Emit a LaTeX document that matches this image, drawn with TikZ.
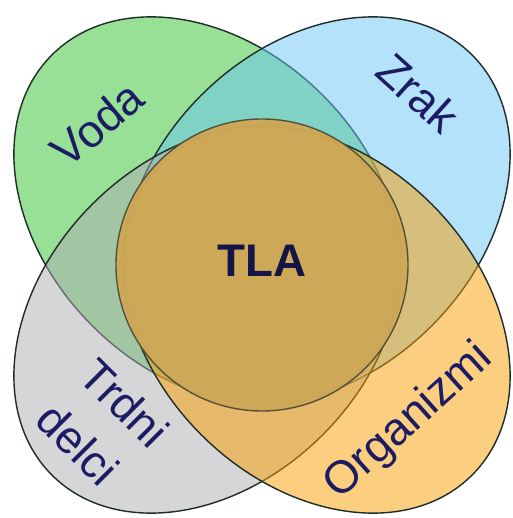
\documentclass[tikz,border=0pt]{standalone}
\usepackage{fontspec}
\setmainfont{Liberation Sans}
\definecolor{vodagreen}{RGB}{49,193,45}
\definecolor{zrakblue}{RGB}{105,197,245}
\definecolor{delcigray}{RGB}{173,173,177}
\definecolor{orgorange}{RGB}{249,157,0}
\definecolor{tlabrown}{RGB}{206,168,88}
\definecolor{textnavy}{RGB}{28,28,100}
\definecolor{edgedark}{RGB}{30,45,40}

\begin{document}
\begin{tikzpicture}[every node/.style={font=\fontsize{26}{35}\selectfont, text=textnavy}]
	\useasboundingbox (-5.24,-5.06) rectangle (5.0,5.3);
	\foreach \x/\y/\ang/\col in {-1.09/1.09/-45/vodagreen, 1.09/1.09/45/zrakblue, -1.09/-1.09/45/delcigray, 1.09/-1.09/-45/orgorange} {
		\filldraw[fill=\col, fill opacity=0.5, draw=edgedark, line width=0.8pt, rotate around={\ang:(\x,\y)}] (\x,\y) ellipse (4.4 and 3.26);
	}
	\filldraw[fill=tlabrown, fill opacity=0.97, draw=edgedark!70!tlabrown, line width=0.8pt] (0,0) circle (2.92);
	\node[font=\fontsize{26}{30}\selectfont\bfseries, text=textnavy!70!black] (tla) at (0,0.09) {TLA};
	\node[rotate=40] (voda) at (-3.3,2.82) {Voda};
	\node[rotate=-42] (zrak) at (3.12,3.44) {Zrak};
	\node[rotate=-45, align=left] (delci) at (-3.18,-3.2) {Trdni\\delci};
	\node[rotate=42] (organizmi) at (2.94,-3.14) {Organizmi};
\end{tikzpicture}
\end{document}
